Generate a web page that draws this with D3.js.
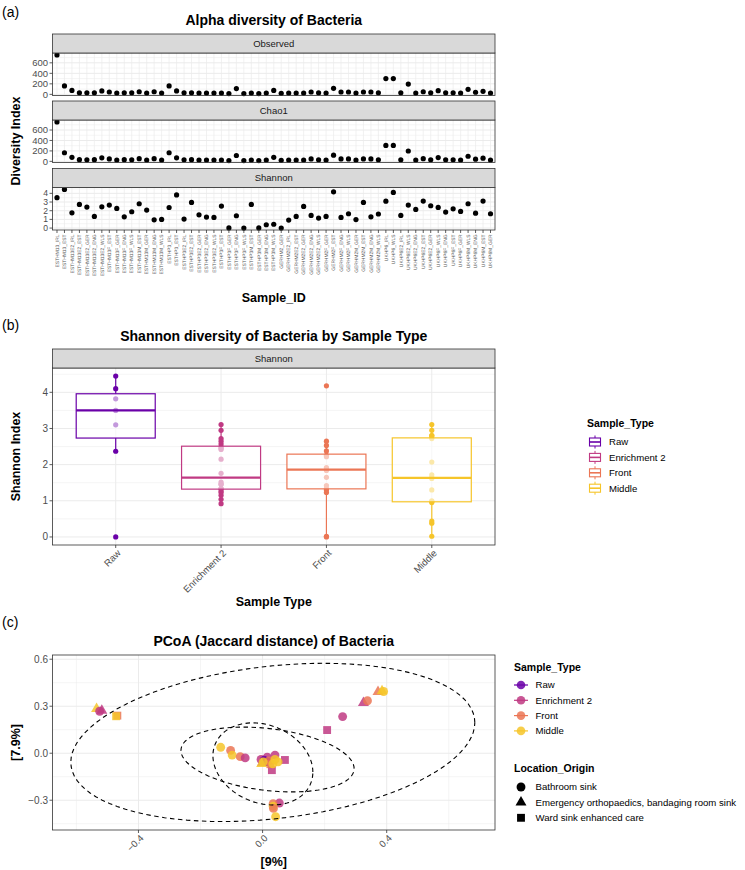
<!DOCTYPE html>
<html>
<head>
<meta charset="utf-8">
<script src="https://cdn.jsdelivr.net/npm/d3@7"></script>
<style>
  body { margin: 0; background: #fff; }
  text { font-family: "Liberation Sans", Arial, sans-serif; }
</style>
</head>
<body>
<svg id="fig" width="745" height="870"></svg>
<script>
// ---- data ----
var sampleIds = [
  "ESTHM13_IRL","ESTHM13_EST","ESTHM13E2_IRL","ESTHM13E2_EST","ESTHM13E2_GER","ESTHM13E2_ENG","ESTHM13E2_WLS",
  "ESTHM13F_EST","ESTHM13F_GER","ESTHM13F_ENG","ESTHM13F_WLS","ESTHM13M_EST","ESTHM13M_GER","ESTHM13M_ENG","ESTHM13M_WLS",
  "ESTHP3_IRL","ESTHP3_EST","ESTHP3E2_IRL","ESTHP3E2_EST","ESTHP3E2_GER","ESTHP3E2_ENG","ESTHP3E2_WLS",
  "ESTHP3F_EST","ESTHP3F_GER","ESTHP3F_ENG","ESTHP3F_WLS","ESTHP3M_EST","ESTHP3M_GER","ESTHP3M_ENG","ESTHP3M_WLS",
  "GERHM2_GER","GERHM2E2_IRL","GERHM2E2_EST","GERHM2E2_GER","GERHM2E2_ENG","GERHM2E2_WLS",
  "GERHM2F_GER","GERHM2F_EST","GERHM2F_ENG","GERHM2F_WLS","GERHM2M_GER","GERHM2M_EST","GERHM2M_ENG","GERHM2M_WLS",
  "UKHP6_IRL","UKHP6_WLS","UKHP6E2_IRL","UKHP6E2_WLS","UKHP6E2_ENG","UKHP6E2_EST","UKHP6E2_GER",
  "UKHP6F_WLS","UKHP6F_ENG","UKHP6F_EST","UKHP6F_GER","UKHP6M_WLS","UKHP6M_ENG","UKHP6M_EST","UKHP6M_GER"
];
var observed = [750,160,75,30,30,30,65,45,25,30,30,50,25,50,25,
  160,65,30,30,25,25,25,25,15,110,15,25,15,25,75,
  20,25,25,25,45,30,25,115,45,45,25,45,45,30,
  300,300,30,195,25,50,30,70,30,30,25,95,40,58,25];
var chao1 = [755,165,78,32,30,32,68,46,26,32,31,52,26,52,26,
  165,68,31,32,26,26,26,26,15,112,15,26,15,26,78,
  20,26,26,26,46,31,26,118,46,46,26,46,46,31,
  305,305,31,198,26,52,31,72,31,31,26,98,41,60,26];
var shannon = [3.50,4.45,1.76,2.72,2.42,1.34,2.45,2.65,2.26,1.30,1.88,2.80,2.07,0.95,1.00,
  2.37,3.82,1.04,2.95,1.52,1.27,1.23,2.53,0.02,1.42,0.00,2.72,0.02,0.38,0.44,
  0.00,0.92,1.34,2.49,1.46,1.15,1.34,4.18,1.23,1.65,0.98,2.95,1.30,1.62,
  3.10,4.10,1.46,2.65,2.15,3.11,2.57,2.38,1.84,2.22,1.92,2.80,1.72,3.11,1.65];

var sampleTypes = ["Raw","Enrichment 2","Front","Middle"];
var typeColors = ["#6A00A8","#C03A83","#EB7655","#F6C52A"];
var metrics = ["Observed","Chao1","Shannon"];

var locations = ["Bathroom sink","Emergency orthopaedics, bandaging room sink","Ward sink enhanced care"];
var pcoaX = [-0.535,-0.518,-0.525,-0.468,-0.472, 0.325,0.338,0.372,0.385,0.390,0.258,0.208,
  -0.135,-0.103,-0.098,-0.072,-0.056,-0.005,0.015,0.040,0.072,0.030,0.000,0.005,0.012,0.020,0.025,
  0.002,0.033,0.050,-0.003,0.040, 0.054,0.034,0.034,0.035,0.042];
var pcoaY = [0.283,0.272,0.268,0.240,0.236, 0.322,0.335,0.392,0.396,0.394,0.234,0.148,
  0.038,0.018,-0.012,-0.022,-0.030,-0.040,-0.025,-0.012,-0.043,-0.108,-0.060,-0.045,-0.055,-0.050,-0.070,
  -0.055,-0.068,-0.055,-0.068,-0.040, -0.318,-0.322,-0.338,-0.352,-0.405];
var pcoaType = ["Middle","Enrichment 2","Enrichment 2","Front","Middle","Enrichment 2","Front","Front","Middle","Middle","Enrichment 2","Enrichment 2",
  "Middle","Front","Middle","Front","Enrichment 2","Enrichment 2","Enrichment 2","Enrichment 2","Enrichment 2","Enrichment 2","Enrichment 2","Raw","Raw","Front","Front",
  "Middle","Middle","Middle","Middle","Middle","Enrichment 2","Front","Middle","Front","Middle"];
var pcoaLoc = [1,1,0,2,2, 1,0,1,1,0,0,2,
  0,0,0,0,0,0,0,0,2,2,1,0,2,0,2,
  0,0,0,1,0, 0,0,0,0,0];

// ellipses: centre, half extent in x and y, correlation
var ellipseCx = [0.033, 0.016, 0.001];
var ellipseCy = [0.069, -0.040, -0.068];
var ellipseSx = [0.651, 0.279, 0.161];
var ellipseSy = [0.505, 0.207, 0.262];
var ellipseR = [0.25, -0.28, -0.20];

var xTicksC = [-0.4, 0.0, 0.4];
var yTicksC = [-0.3, 0.0, 0.3, 0.6];

// ---- helpers ----
var svg = d3.select("#fig");
var ink = "#333333", grid = "#EBEBEB", tickInk = "#4D4D4D";

function typeOf(id){
  var code = id.split("_")[0];
  if (/E2$/.test(code)) return "Enrichment 2";
  if (/F$/.test(code)) return "Front";
  if (/M$/.test(code)) return "Middle";
  return "Raw";
}
function colorOf(t){ return typeColors[sampleTypes.indexOf(t)]; }
function minus(v){ return d3.format(".1f")(v).replace("-", "\u2212"); }

function label(txt, x, y, size, bold, anchor){
  return svg.append("text").attr("x", x).attr("y", y).text(txt)
    .attr("font-size", size).attr("font-weight", bold ? "bold" : "normal")
    .attr("text-anchor", anchor || "start").attr("fill", "#000");
}
function strip(txt, x0, x1, y0, h){
  svg.append("rect").attr("x", x0).attr("y", y0).attr("width", x1 - x0).attr("height", h)
    .attr("fill", "#D9D9D9").attr("stroke", ink).attr("stroke-width", 0.8);
  svg.append("text").attr("x", (x0 + x1) / 2).attr("y", y0 + h / 2 + 3.4).text(txt)
    .attr("font-size", 9.5).attr("text-anchor", "middle").attr("fill", "#1A1A1A");
}
function hGrid(g, y, x0, x1, ticks){
  var step = ticks[1] - ticks[0];
  var dom = y.domain();
  var minor = [];
  for (var v = ticks[0] - step / 2; v <= dom[1]; v += step) if (v >= dom[0]) minor.push(v);
  g.selectAll(null).data(minor).enter().append("line")
    .attr("x1", x0).attr("x2", x1).attr("y1", y).attr("y2", y)
    .attr("stroke", grid).attr("stroke-width", 0.5);
  g.selectAll(null).data(ticks).enter().append("line")
    .attr("x1", x0).attr("x2", x1).attr("y1", y).attr("y2", y)
    .attr("stroke", grid).attr("stroke-width", 1);
}
function yAxisTicks(g, y, x0, ticks, fmt, size){
  g.selectAll(null).data(ticks).enter().append("line")
    .attr("x1", x0 - 3).attr("x2", x0).attr("y1", y).attr("y2", y).attr("stroke", ink).attr("stroke-width", 0.8);
  g.selectAll(null).data(ticks).enter().append("text")
    .attr("x", x0 - 4.5).attr("y", y).attr("dy", "0.35em").attr("text-anchor", "end")
    .attr("font-size", size || 10).attr("fill", tickInk).text(fmt);
}
function border(x0, y0, x1, y1){
  svg.append("rect").attr("x", x0).attr("y", y0).attr("width", x1 - x0).attr("height", y1 - y0)
    .attr("fill", "none").attr("stroke", ink).attr("stroke-width", 0.8);
}

// ================= (a) =================
var aL = 52.5, aR = 495;
var aX = d3.scalePoint().domain(sampleIds).range([aL, aR]).padding(0.6);
var aValues = [observed, chao1, shannon];
var stripTops = [34, 101, 168.5], stripH = 19, panelH = 42.5;

label("(a)", 2, 17, 14, false);
label("Alpha diversity of Bacteria", (aL + aR) / 2, 25, 14, true, "middle");

metrics.forEach(function(m, k){
  var vals = aValues[k];
  var lo = d3.min(vals), hi = d3.max(vals), pad = (hi - lo) * 0.05;
  var top = stripTops[k] + stripH, bottom = top + panelH;
  var y = d3.scaleLinear().domain([lo - pad, hi + pad]).range([bottom, top]);
  var ticks = y.ticks(k == 2 ? 5 : 4);
  var g = svg.append("g");
  hGrid(g, y, aL, aR, ticks);
  g.selectAll(null).data(sampleIds).enter().append("line")
    .attr("x1", aX).attr("x2", aX).attr("y1", top).attr("y2", bottom)
    .attr("stroke", grid).attr("stroke-width", 0.7);
  g.selectAll(null).data(vals).enter().append("circle")
    .attr("cx", function(d, i){ return aX(sampleIds[i]); })
    .attr("cy", function(d){ return y(d); })
    .attr("r", 2.6).attr("fill", "#000");
  border(aL, top, aR, bottom);
  strip(m, aL, aR, stripTops[k], stripH);
  yAxisTicks(g, y, aL, ticks, function(d){ return d; }, k == 2 ? 8.6 : 9.5);
});

var aBottom = stripTops[2] + stripH + panelH;
svg.append("g").selectAll("line").data(sampleIds).enter().append("line")
  .attr("x1", aX).attr("x2", aX).attr("y1", aBottom).attr("y2", aBottom + 3)
  .attr("stroke", ink).attr("stroke-width", 0.8);
svg.append("g").selectAll("text").data(sampleIds).enter().append("text")
  .attr("transform", function(d){ return "translate(" + aX(d) + "," + (aBottom + 4.5) + ") rotate(-90)"; })
  .attr("dy", "0.35em").attr("text-anchor", "end").attr("font-size", 4.9).attr("fill", "#555")
  .style("text-rendering", "geometricPrecision")
  .text(function(d){ return d; });
label("Sample_ID", (aL + aR) / 2, 302, 12.5, true, "middle");
label("Diversity Index", 0, 0, 12.5, true, "middle")
  .attr("transform", "translate(20,141) rotate(-90)");

// ================= (b) =================
var bL = 52.5, bR = 495, bStrip = 349, bTop = 368, bBot = 545;
var bX = d3.scalePoint().domain(sampleTypes).range([bL, bR]).padding(0.6);
var sLo = d3.min(shannon), sHi = d3.max(shannon), sPad = (sHi - sLo) * 0.05;
var bY = d3.scaleLinear().domain([sLo - sPad, sHi + sPad]).range([bBot, bTop]);
var bTicks = [0, 1, 2, 3, 4];

label("(b)", 2, 330, 14, false);
label("Shannon diversity of Bacteria by Sample Type", (bL + bR) / 2, 341, 14, true, "middle");

var gb = svg.append("g");
hGrid(gb, bY, bL, bR, bTicks);
gb.selectAll(null).data(sampleTypes).enter().append("line")
  .attr("x1", bX).attr("x2", bX).attr("y1", bTop).attr("y2", bBot)
  .attr("stroke", grid).attr("stroke-width", 1);

var shannonByType = sampleTypes.map(function(t){
  return shannon.filter(function(v, i){ return typeOf(sampleIds[i]) == t; });
});

// points underneath the boxes
gb.selectAll(null).data(shannon).enter().append("circle")
  .attr("cx", function(d, i){ return bX(typeOf(sampleIds[i])); })
  .attr("cy", function(d){ return bY(d); })
  .attr("r", 2.6)
  .attr("fill", function(d, i){ return colorOf(typeOf(sampleIds[i])); });

var boxW = bX.step() * 0.75;
shannonByType.forEach(function(vals, k){
  var s = vals.slice().sort(d3.ascending);
  var q1 = d3.quantile(s, 0.25), med = d3.quantile(s, 0.5), q3 = d3.quantile(s, 0.75);
  var iqr = q3 - q1;
  var wLo = d3.min(s.filter(function(v){ return v >= q1 - 1.5 * iqr; }));
  var wHi = d3.max(s.filter(function(v){ return v <= q3 + 1.5 * iqr; }));
  var cx = bX(sampleTypes[k]), col = typeColors[k];
  gb.append("line").attr("x1", cx).attr("x2", cx).attr("y1", bY(q3)).attr("y2", bY(wHi))
    .attr("stroke", col).attr("stroke-width", 1.2);
  gb.append("line").attr("x1", cx).attr("x2", cx).attr("y1", bY(q1)).attr("y2", bY(wLo))
    .attr("stroke", col).attr("stroke-width", 1.2);
  gb.append("rect").attr("x", cx - boxW / 2).attr("y", bY(q3)).attr("width", boxW)
    .attr("height", bY(q1) - bY(q3)).attr("fill", "#fff").attr("fill-opacity", 0.6)
    .attr("stroke", col).attr("stroke-width", 1.2);
  gb.append("line").attr("x1", cx - boxW / 2).attr("x2", cx + boxW / 2)
    .attr("y1", bY(med)).attr("y2", bY(med)).attr("stroke", col).attr("stroke-width", 2.2);
});
border(bL, bTop, bR, bBot);
strip("Shannon", bL, bR, bStrip, bTop - bStrip);
yAxisTicks(gb, bY, bL, bTicks, function(d){ return d; });
gb.selectAll(null).data(sampleTypes).enter().append("line")
  .attr("x1", bX).attr("x2", bX).attr("y1", bBot).attr("y2", bBot + 3)
  .attr("stroke", ink).attr("stroke-width", 0.8);
gb.selectAll(null).data(sampleTypes).enter().append("text")
  .attr("transform", function(d){ return "translate(" + (bX(d) + 1) + "," + (bBot + 4) + ") rotate(-45)"; })
  .attr("dy", "0.7em").attr("text-anchor", "end").attr("font-size", 9.5).attr("fill", tickInk)
  .text(function(d){ return d; });
label("Sample Type", (bL + bR) / 2, 606, 12.5, true, "middle");
label("Shannon Index", 0, 0, 12.5, true, "middle")
  .attr("transform", "translate(20,456.5) rotate(-90)");

// legend (b)
label("Sample_Type", 587, 427, 10.5, true);
var lb = svg.append("g").selectAll("g").data(sampleTypes).enter().append("g")
  .attr("transform", function(d, i){ return "translate(595," + (442 + i * 15.4) + ")"; });
lb.append("line").attr("x1", 0).attr("x2", 0).attr("y1", -6.5).attr("y2", 6.5)
  .attr("stroke", colorOf).attr("stroke-width", 1);
lb.append("rect").attr("x", -5.5).attr("y", -4).attr("width", 11).attr("height", 8)
  .attr("fill", "#fff").attr("stroke", colorOf).attr("stroke-width", 1.1);
lb.append("line").attr("x1", -5.5).attr("x2", 5.5).attr("y1", 0).attr("y2", 0)
  .attr("stroke", colorOf).attr("stroke-width", 1.6);
lb.append("text").attr("x", 14).attr("y", 0).attr("dy", "0.35em").attr("font-size", 9.6)
  .text(function(d){ return d; });

// ================= (c) =================
var cL = 52.5, cR = 495, cTop = 655, cBot = 830;
var cX = d3.scaleLinear().domain([-0.677, 0.749]).range([cL, cR]);
var cY = d3.scaleLinear().domain([-0.49, 0.627]).range([cBot, cTop]);

label("(c)", 2, 627, 14, false);
label("PCoA (Jaccard distance) of Bacteria", (cL + cR) / 2, 646, 14, true, "middle");

var gc = svg.append("g");
var xMinor = [-0.6, -0.2, 0.2, 0.6], yMinor = [-0.45, -0.15, 0.15, 0.45];
gc.selectAll(null).data(yMinor).enter().append("line")
  .attr("x1", cL).attr("x2", cR).attr("y1", cY).attr("y2", cY).attr("stroke", grid).attr("stroke-width", 0.5);
gc.selectAll(null).data(xMinor).enter().append("line")
  .attr("x1", cX).attr("x2", cX).attr("y1", cTop).attr("y2", cBot).attr("stroke", grid).attr("stroke-width", 0.5);
gc.selectAll(null).data(yTicksC).enter().append("line")
  .attr("x1", cL).attr("x2", cR).attr("y1", cY).attr("y2", cY).attr("stroke", grid).attr("stroke-width", 1);
gc.selectAll(null).data(xTicksC).enter().append("line")
  .attr("x1", cX).attr("x2", cX).attr("y1", cTop).attr("y2", cBot).attr("stroke", grid).attr("stroke-width", 1);

var symbolTypes = [d3.symbolCircle, d3.symbolTriangle, d3.symbolSquare];
var symbolSizes = [62, 52, 62];
gc.selectAll(null).data(pcoaX).enter().append("path")
  .attr("transform", function(d, i){ return "translate(" + cX(d) + "," + cY(pcoaY[i]) + ")"; })
  .attr("d", function(d, i){ return d3.symbol().type(symbolTypes[pcoaLoc[i]]).size(symbolSizes[pcoaLoc[i]])(); })
  .attr("fill", function(d, i){ return colorOf(pcoaType[i]); })
  .attr("fill-opacity", 0.85);

var line = d3.line().x(function(p){ return cX(p[0]); }).y(function(p){ return cY(p[1]); });
ellipseCx.forEach(function(cx, k){
  var pts = d3.range(0, 101).map(function(j){
    var t = j / 100 * 2 * Math.PI, r = ellipseR[k];
    return [cx + ellipseSx[k] * Math.cos(t),
            ellipseCy[k] + ellipseSy[k] * (r * Math.cos(t) + Math.sqrt(1 - r * r) * Math.sin(t))];
  });
  gc.append("path").attr("d", line(pts)).attr("fill", "none")
    .attr("stroke", "#000").attr("stroke-width", 1.1).attr("stroke-dasharray", "4.5,3.5");
});

border(cL, cTop, cR, cBot);
yAxisTicks(gc, cY, cL, yTicksC, minus);
gc.selectAll(null).data(xTicksC).enter().append("line")
  .attr("x1", cX).attr("x2", cX).attr("y1", cBot).attr("y2", cBot + 3).attr("stroke", ink).attr("stroke-width", 0.8);
gc.selectAll(null).data(xTicksC).enter().append("text")
  .attr("transform", function(d){ return "translate(" + (cX(d) + 1) + "," + (cBot + 4) + ") rotate(-45)"; })
  .attr("dy", "0.7em").attr("text-anchor", "end").attr("font-size", 9.5).attr("fill", tickInk)
  .text(minus);
label("[9%]", (cL + cR) / 2, 865.5, 12.5, true, "middle");
label("[7.9%]", 0, 0, 12.5, true, "middle").attr("transform", "translate(20,742.5) rotate(-90)");

// legend (c)
label("Sample_Type", 514, 671, 10.5, true);
var lc = svg.append("g").selectAll("g").data(sampleTypes).enter().append("g")
  .attr("transform", function(d, i){ return "translate(521," + (685 + i * 15.3) + ")"; });
lc.append("line").attr("x1", -7).attr("x2", 7).attr("stroke", colorOf).attr("stroke-width", 1.2);
lc.append("circle").attr("r", 4.3).attr("fill", colorOf).attr("fill-opacity", 0.85);
lc.append("text").attr("x", 14.5).attr("dy", "0.35em").attr("font-size", 9.6).text(function(d){ return d; });

label("Location_Origin", 514, 772, 10.5, true);
var ll = svg.append("g").selectAll("g").data(locations).enter().append("g")
  .attr("transform", function(d, i){ return "translate(521," + (787 + i * 15.4) + ")"; });
ll.append("path").attr("d", function(d, i){ return d3.symbol().type(symbolTypes[i]).size(symbolSizes[i])(); })
  .attr("fill", "#000");
ll.append("text").attr("x", 14.5).attr("dy", "0.35em").attr("font-size", 9.6).text(function(d){ return d; });
</script>
</body>
</html>
